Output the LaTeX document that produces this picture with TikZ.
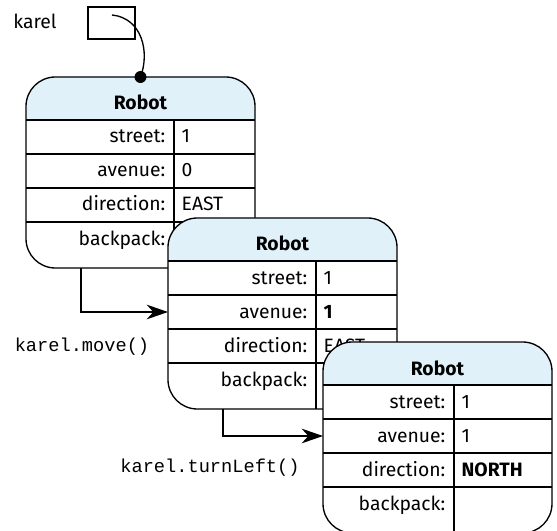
\documentclass[tikz,border=0pt]{standalone}
\usepackage{fontspec}
\setmainfont{Fira Sans}
\setmonofont{Liberation Mono}
\usetikzlibrary{arrows.meta}

\definecolor{headblue}{RGB}{224,241,250}

\tikzset{every picture/.style={line width=1pt}}
\tikzset{
  field/.style={anchor=base east,inner sep=0.75pt},
  value/.style={anchor=base west,inner sep=0.75pt},
  flow/.style={-{Stealth[length=16pt,width=11pt,inset=5pt]}},
  call/.style={inner sep=0.75pt,font=\ttfamily\fontsize{14}{16}\selectfont},
}

% one Robot object: #1 name, #2 top left corner, #3 column split,
% #4 street, #5 avenue, #6 direction
\newcommand{\robotbox}[6]{%
\begin{scope}[shift={#2}]
%Shape: body
\fill [white] [rounded corners=22pt] (0,0) rectangle (229,191) ;
%Shape: header
\fill [headblue] (0,43) [rounded corners=22pt] -- (0,0) -- (229,0) [sharp corners] -- (229,43) -- cycle ;
%Straight Lines: rows and column
\foreach \y in {43,77,111,145} {\draw (0,\y) -- (229,\y) ;}
\draw (#3,43) -- (#3,191) ;
%Shape: outline
\draw [rounded corners=22pt] (0,0) rectangle (229,191) ;
% Text Nodes
\node [anchor=base,inner sep=0.75pt] (#1-title) at (114.5,33) {\textbf{Robot}};
\node [field] (#1-street) at (#3-7,66) {street:};
\node [field] (#1-avenue) at (#3-7,100) {avenue:};
\node [field] (#1-direction) at (#3-7,134) {direction:};
\node [field] (#1-backpack) at (#3-7,168) {backpack:};
\node [value] (#1-streetval) at (#3+6,66) {#4};
\node [value] (#1-avenueval) at (#3+6,100) {#5};
\node [value] (#1-directionval) at (#3+6,134) {#6};
% anchors for the links
\coordinate (#1-top) at (114.5,0) ;
\coordinate (#1-in) at (0,94) ;
\coordinate (#1-foot) at (55,191) ;
\end{scope}}

\begin{document}
\begin{tikzpicture}[x=0.75pt,y=0.75pt,yscale=-1,xscale=1,font=\fontsize{14.5}{16}\selectfont]
\useasboundingbox (0,0) rectangle (557,531);

%Shape: variable box
\node [anchor=base,inner sep=0.75pt] (karel) at (35,29) {karel};
\node [draw,inner sep=0pt,minimum width=35.25pt,minimum height=24pt] (karelref) at (111.5,23) {};
\coordinate (karelref-tail) at (112,15) ;

\robotbox{r1}{(26,77)}{148}{1}{0}{EAST}
\robotbox{r2}{(168,218)}{148}{1}{\textbf{1}}{EAST}
\robotbox{r3}{(323,342)}{131}{1}{1}{\textbf{NORTH}}

%Curve Lines: reference
\draw (karelref-tail) .. controls (142,18) and (150,52) .. (r1-top) ;
\fill (r1-top) circle (6) ;

%Straight Lines: steps
\draw [flow] (r1-foot) |- (r2-in) ;
\draw [flow] (r2-foot) |- (r3-in) ;

% Text Node
\node [call] (move) at (82,347) {karel.move()};
% Text Node
\node [call] (turn) at (210,468) {karel.turnLeft()};

\end{tikzpicture}
\end{document}
